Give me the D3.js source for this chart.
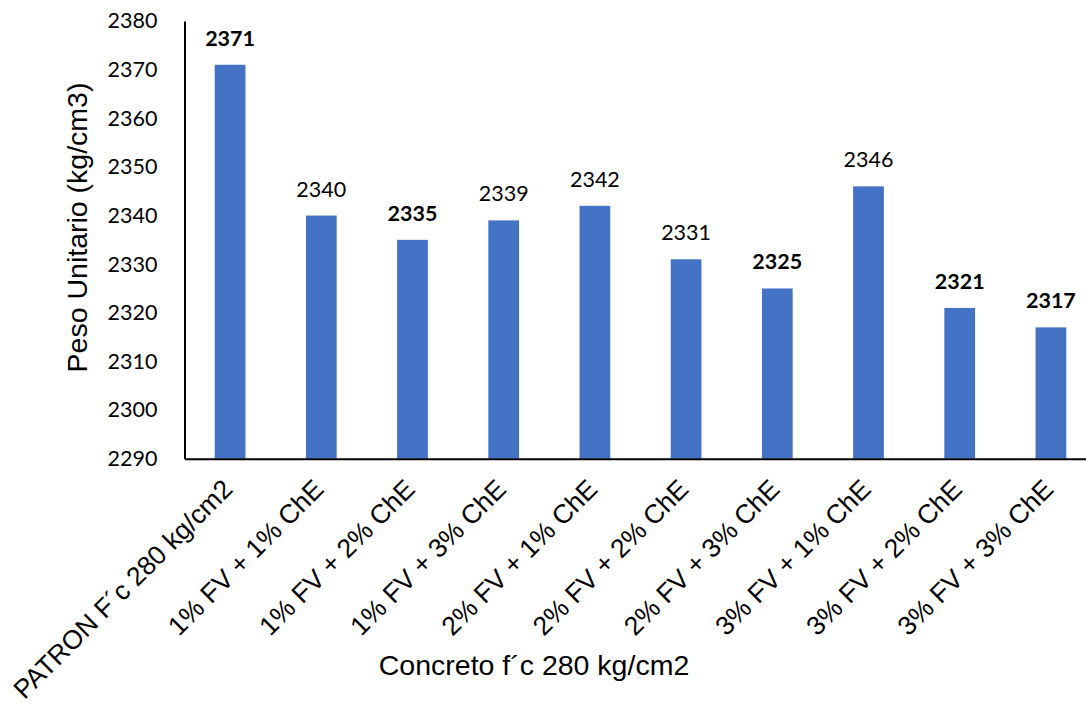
<!DOCTYPE html>
<html>
<head>
<meta charset="utf-8">
<script src="https://cdn.jsdelivr.net/npm/d3@7"></script>
<style>
  html, body { margin: 0; padding: 0; background: #fff; }
  svg { display: block; }
</style>
</head>
<body>
<svg id="chart" width="1086" height="705"></svg>
<script>
// Unit weight of each concrete mix
const categories = [
  "PATRON F´c 280 kg/cm2",
  "1% FV + 1% ChE",
  "1% FV + 2% ChE",
  "1% FV + 3% ChE",
  "2% FV + 1% ChE",
  "2% FV + 2% ChE",
  "2% FV + 3% ChE",
  "3% FV + 1% ChE",
  "3% FV + 2% ChE",
  "3% FV + 3% ChE"
];
const values = [2371, 2340, 2335, 2339, 2342, 2331, 2325, 2346, 2321, 2317];
// Labels shown in bold
const boldLabels = [true, false, true, false, false, false, true, false, true, true];
const yTicks = [2290, 2300, 2310, 2320, 2330, 2340, 2350, 2360, 2370, 2380];
const yTitle = "Peso Unitario (kg/cm3)";
const xTitle = "Concreto f´c 280 kg/cm2";

const svg = d3.select("#chart");

const plotLeft = 184.5, plotTop = 21, plotBottom = 458.7;
const step = 91.2;

const x = d3.scaleBand()
  .domain(categories)
  .range([plotLeft, plotLeft + step * categories.length])
  .paddingInner(0.663)
  .paddingOuter(0.3315);

const y = d3.scaleLinear()
  .domain([2290, 2380])
  .range([plotBottom, plotTop]);

const data = categories.map((c, i) => ({ cat: c, value: values[i], bold: boldLabels[i] }));

// Bars
svg.append("g")
  .selectAll("rect")
  .data(data)
  .join("rect")
  .attr("x", d => x(d.cat))
  .attr("y", d => y(d.value))
  .attr("width", x.bandwidth())
  .attr("height", d => y(2290) - y(d.value))
  .attr("fill", "#4472C4");

// Value labels above bars
svg.append("g")
  .selectAll("text")
  .data(data)
  .join("text")
  .attr("x", d => x(d.cat) + x.bandwidth() / 2)
  .attr("y", d => y(d.value) - 19)
  .attr("text-anchor", "middle")
  .attr("font-family", "Lato, 'Open Sans', sans-serif")
  .attr("font-size", 21.5)
  .attr("font-weight", d => d.bold ? "bold" : "normal")
  .attr("fill", "#000")
  .text(d => d.value);

// Y axis
const yAxis = d3.axisLeft(y).tickValues(yTicks).tickFormat(d3.format("d"))
  .tickSize(0).tickPadding(27);
const gy = svg.append("g")
  .attr("transform", `translate(${plotLeft},0)`)
  .call(yAxis);
gy.select(".domain").attr("stroke", "#000").attr("stroke-width", 2);
gy.selectAll(".tick text")
  .attr("font-family", "Lato, 'Open Sans', sans-serif")
  .attr("font-size", 21.5)
  .attr("fill", "#000");

// X axis with slanted category labels
const xAxis = d3.axisBottom(x).tickSize(0).tickSizeOuter(0);
const gx = svg.append("g")
  .attr("transform", `translate(0,${plotBottom})`)
  .call(xAxis);
gx.select(".domain").attr("stroke", "#000").attr("stroke-width", 2);
gx.selectAll(".tick text")
  .attr("font-family", "'Liberation Sans', Arial, sans-serif")
  .attr("font-size", 26.5)
  .attr("fill", "#000")
  .attr("text-anchor", "end")
  .attr("x", 0)
  .attr("y", 0)
  .attr("dy", 0)
  .attr("transform", "translate(4,32) rotate(-45)");

// Axis titles
svg.append("text")
  .attr("transform", "translate(86.7,227.5) rotate(-90)")
  .attr("text-anchor", "middle")
  .attr("font-family", "'Liberation Sans', Arial, sans-serif")
  .attr("font-size", 28.5)
  .attr("fill", "#000")
  .text(yTitle);

svg.append("text")
  .attr("x", 534)
  .attr("y", 675)
  .attr("text-anchor", "middle")
  .attr("font-family", "'Liberation Sans', Arial, sans-serif")
  .attr("font-size", 28.5)
  .attr("fill", "#000")
  .text(xTitle);
</script>
</body>
</html>
